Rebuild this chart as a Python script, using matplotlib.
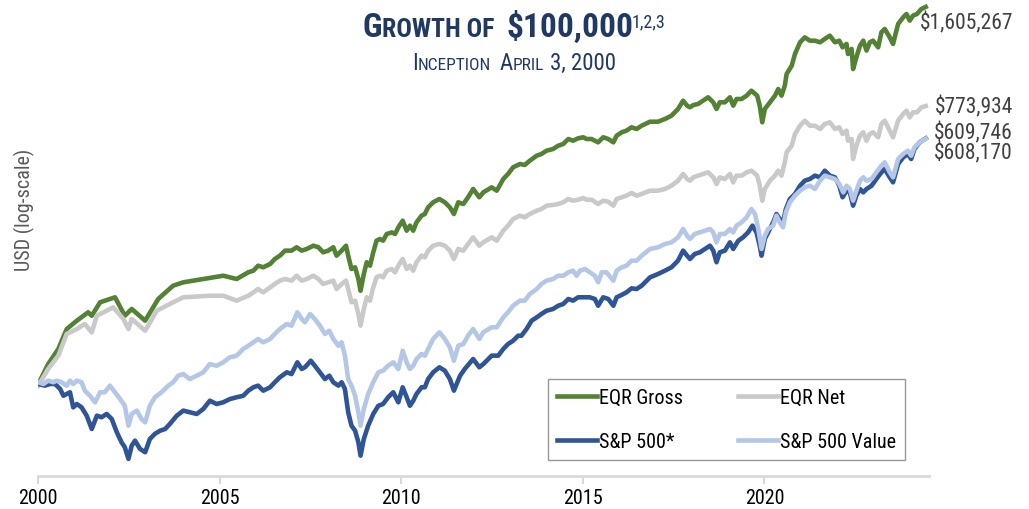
import numpy as np
import matplotlib
matplotlib.use('Agg')
import matplotlib.pyplot as plt
from matplotlib.ticker import NullLocator

plt.rcParams['font.family'] = ['Roboto Condensed', 'DejaVu Sans']
plt.rcParams['font.stretch'] = 'condensed'

# ---- data: growth of $100,000 (values in $ thousands), dates as decimal years ----
gross_dates_early = [2000.26, 2000.53, 2000.81, 2001.04, 2001.32, 2001.63, 2001.73, 2001.96, 2002.37, 2002.64,
                     2002.83, 2003.20, 2003.56, 2003.97, 2004.25, 2004.80, 2005.35, 2005.72, 2006.04]
gross_early = [100.0, 115.8, 129.4, 149.9, 159.4, 169.5, 165.3, 182.5, 189.3, 165.3,
               173.7, 159.4, 187.0, 206.2, 211.4, 216.6, 221.9, 216.6, 227.6]
net_dates_early = [2000.26, 2000.53, 2000.81, 2001.04, 2001.32, 2001.54, 2001.73, 2001.87, 2002.32, 2002.60,
                   2002.74, 2002.83, 2003.20, 2003.52, 2003.97, 2004.25, 2004.98, 2005.35, 2005.72, 2006.04]
net_early = [98.8, 111.7, 123.2, 144.5, 149.9, 155.5, 146.3, 165.3, 175.8, 161.4,
             149.9, 161.4, 148.0, 171.5, 182.5, 189.3, 191.5, 191.5, 184.7, 191.5]

# shared monthly-ish dates for both EQR series from 2006 on
eqr_dates_late = [
    2006.18, 2006.31, 2006.45, 2006.64, 2006.77, 2006.91, 2007.05, 2007.23, 2007.37, 2007.51,
    2007.65, 2007.83, 2007.97, 2008.10, 2008.24, 2008.38, 2008.47, 2008.61, 2008.73, 2008.79,
    2008.88, 2008.98, 2009.07, 2009.13, 2009.22, 2009.30, 2009.39, 2009.48, 2009.57, 2009.66,
    2009.75, 2009.85, 2009.99, 2010.08, 2010.17, 2010.29, 2010.40, 2010.49, 2010.58, 2010.67,
    2010.81, 2010.90, 2010.99, 2011.13, 2011.30, 2011.45, 2011.59, 2011.70, 2011.82, 2011.96,
    2012.09, 2012.23, 2012.40, 2012.51, 2012.74, 2012.88, 2013.06, 2013.19, 2013.33, 2013.52,
    2013.65, 2013.79, 2013.98, 2014.11, 2014.25, 2014.43, 2014.57, 2014.71, 2014.85, 2014.98,
    2015.12, 2015.26, 2015.35, 2015.49, 2015.67, 2015.81, 2015.95, 2016.09, 2016.18, 2016.32,
    2016.45, 2016.59, 2016.73, 2016.87, 2017.10, 2017.32, 2017.51, 2017.69, 2017.87, 2018.01,
    2018.12, 2018.20, 2018.29, 2018.42, 2018.56, 2018.70, 2018.84, 2018.93, 2019.02, 2019.16,
    2019.30, 2019.39, 2019.48, 2019.62, 2019.76, 2019.89, 2020.05, 2020.12, 2020.19, 2020.26,
    2020.40, 2020.54, 2020.63, 2020.72, 2020.81, 2020.86, 2021.00, 2021.09, 2021.23, 2021.36,
    2021.50, 2021.64, 2021.78, 2021.91, 2022.05, 2022.19, 2022.31, 2022.40, 2022.51, 2022.55,
    2022.65, 2022.69, 2022.78, 2022.88, 2022.97, 2023.06, 2023.15, 2023.24, 2023.38, 2023.47,
    2023.56, 2023.70, 2023.79, 2023.93, 2024.07, 2024.16, 2024.25, 2024.34, 2024.45, 2024.57,
    2024.69]
gross_late = [
    230.3, 238.9, 236.1, 241.9, 251.0, 257.2, 266.9, 266.9, 273.6, 266.9,
    270.2, 276.8, 273.6, 263.6, 266.9, 273.6, 257.2, 266.9, 276.8, 257.2,
    233.2, 236.1, 216.6, 198.7, 224.7, 245.0, 238.9, 263.6, 287.2, 290.8,
    287.2, 301.7, 305.3, 301.7, 316.9, 332.8, 309.1, 320.8, 309.1, 328.7,
    345.3, 349.5, 367.1, 381.0, 390.3, 381.0, 367.1, 349.5, 381.0, 376.2,
    395.3, 420.1, 395.3, 409.9, 425.4, 415.0, 452.2, 469.2, 492.9, 505.1,
    501.4, 517.6, 536.9, 543.6, 557.0, 564.0, 577.8, 585.2, 607.1, 599.6,
    610.2, 614.8, 607.1, 607.1, 592.3, 614.8, 607.1, 592.3, 622.1, 637.8,
    645.5, 661.6, 653.5, 669.6, 689.6, 689.6, 703.4, 720.6, 757.1, 804.9,
    775.9, 766.6, 779.3, 785.5, 804.9, 825.2, 795.3, 757.1, 795.3, 795.3,
    825.2, 775.9, 815.0, 815.0, 835.2, 866.4, 835.2, 775.9, 686.6, 757.1,
    795.3, 835.2, 877.2, 835.2, 898.8, 979.6, 1041, 1135, 1237, 1283,
    1252, 1252, 1237, 1268, 1299, 1237, 1252, 1192, 1222, 1135,
    1178, 1016, 1107, 1207, 1252, 1164, 1237, 1252, 1192, 1332,
    1365, 1283, 1222, 1416, 1487, 1524, 1451, 1506, 1524, 1581,
    1605.267]
net_late = [
    196.3, 201.2, 196.3, 203.6, 208.8, 214.0, 216.6, 214.0, 221.9, 214.0,
    216.6, 221.9, 216.6, 208.8, 211.4, 214.0, 201.2, 208.8, 214.0, 201.2,
    182.5, 184.7, 167.4, 153.6, 173.7, 189.3, 184.7, 203.6, 219.3, 221.9,
    219.3, 230.3, 233.2, 227.6, 238.9, 251.0, 233.2, 238.9, 230.3, 245.0,
    257.2, 254.1, 266.9, 276.8, 280.3, 276.8, 266.9, 251.0, 270.2, 266.9,
    280.3, 294.4, 276.8, 283.7, 294.4, 287.2, 309.1, 320.8, 336.9, 345.3,
    341.2, 349.5, 358.2, 362.6, 371.6, 373.7, 376.2, 381.0, 390.3, 385.5,
    388.3, 393.2, 388.3, 388.3, 376.2, 385.5, 382.7, 371.6, 390.3, 395.3,
    400.0, 408.0, 400.0, 405.0, 415.0, 415.0, 420.1, 430.5, 446.7, 469.2,
    452.2, 446.7, 457.8, 463.6, 469.2, 475.0, 457.8, 435.9, 457.8, 452.2,
    469.2, 441.4, 463.6, 463.6, 475.0, 480.8, 463.6, 430.5, 385.5, 420.1,
    446.7, 463.6, 480.8, 463.6, 511.4, 550.5, 577.8, 629.8, 669.6, 694.7,
    669.6, 669.6, 653.5, 678.0, 686.6, 653.5, 661.6, 629.8, 645.5, 599.6,
    607.1, 524.0, 577.8, 622.1, 637.8, 599.6, 629.8, 637.8, 614.8, 678.0,
    694.7, 645.5, 614.8, 694.7, 729.8, 747.8, 711.9, 738.9, 738.9, 766.6,
    773.934]

sp500_dates = [
    2000.26, 2000.44, 2000.58, 2000.72, 2000.86, 2000.95, 2001.04, 2001.13, 2001.22, 2001.32,
    2001.45, 2001.59, 2001.73, 2001.87, 2002.00, 2002.14, 2002.28, 2002.42, 2002.55, 2002.64,
    2002.74, 2002.83, 2002.92, 2003.06, 2003.20, 2003.33, 2003.47, 2003.61, 2003.75, 2003.88,
    2004.07, 2004.25, 2004.43, 2004.62, 2004.80, 2004.98, 2005.17, 2005.35, 2005.53, 2005.72,
    2005.90, 2006.04, 2006.18, 2006.31, 2006.45, 2006.64, 2006.77, 2006.91, 2007.10, 2007.23,
    2007.39, 2007.51, 2007.60, 2007.76, 2007.87, 2008.01, 2008.15, 2008.27, 2008.38, 2008.52,
    2008.61, 2008.70, 2008.79, 2008.88, 2008.98, 2009.07, 2009.13, 2009.22, 2009.34, 2009.48,
    2009.62, 2009.75, 2009.89, 2010.03, 2010.17, 2010.29, 2010.40, 2010.49, 2010.58, 2010.67,
    2010.81, 2010.90, 2010.99, 2011.13, 2011.30, 2011.45, 2011.59, 2011.70, 2011.87, 2012.00,
    2012.23, 2012.40, 2012.51, 2012.74, 2012.92, 2013.06, 2013.19, 2013.33, 2013.47, 2013.56,
    2013.70, 2013.84, 2013.98, 2014.11, 2014.25, 2014.43, 2014.57, 2014.71, 2014.85, 2014.98,
    2015.12, 2015.26, 2015.44, 2015.58, 2015.67, 2015.81, 2015.95, 2016.09, 2016.18, 2016.32,
    2016.45, 2016.59, 2016.73, 2016.87, 2017.10, 2017.32, 2017.51, 2017.69, 2017.87, 2018.01,
    2018.12, 2018.20, 2018.33, 2018.47, 2018.61, 2018.75, 2018.84, 2018.93, 2019.02, 2019.16,
    2019.30, 2019.39, 2019.53, 2019.66, 2019.80, 2019.92, 2020.03, 2020.12, 2020.17, 2020.26,
    2020.35, 2020.49, 2020.58, 2020.67, 2020.76, 2020.84, 2020.95, 2021.09, 2021.23, 2021.36,
    2021.50, 2021.64, 2021.78, 2021.91, 2022.05, 2022.19, 2022.31, 2022.40, 2022.51, 2022.60,
    2022.69, 2022.78, 2022.88, 2022.97, 2023.06, 2023.20, 2023.33, 2023.47, 2023.56, 2023.70,
    2023.79, 2023.93, 2024.07, 2024.20, 2024.29, 2024.38, 2024.52, 2024.69]
sp500 = [
    100.0, 98.8, 100.0, 100.0, 96.4, 91.7, 92.9, 94.1, 84.2, 86.3,
    84.2, 79.2, 71.8, 79.2, 78.3, 80.2, 77.3, 70.1, 65.1, 62.8,
    57.6, 63.5, 65.9, 62.0, 60.5, 66.7, 69.3, 70.9, 71.8, 74.5,
    79.2, 82.2, 81.2, 80.2, 83.2, 88.4, 86.3, 87.4, 89.5, 90.7,
    91.7, 95.2, 97.6, 98.8, 95.2, 97.6, 101.3, 105.1, 109.0, 107.6,
    117.3, 111.7, 113.1, 118.7, 114.4, 109.0, 103.7, 106.3, 101.3, 98.8,
    101.3, 96.4, 81.2, 73.6, 70.9, 65.1, 59.0, 66.7, 73.6, 80.2,
    85.2, 86.3, 90.7, 94.1, 87.4, 97.6, 90.7, 85.2, 88.4, 92.9,
    97.6, 97.6, 103.7, 109.0, 113.1, 110.3, 103.7, 95.2, 106.3, 111.7,
    120.2, 113.1, 115.8, 123.2, 123.2, 129.4, 134.2, 137.5, 142.7, 142.7,
    149.9, 159.4, 163.3, 167.4, 171.5, 173.7, 177.9, 180.2, 187.0, 184.7,
    189.3, 189.3, 189.3, 187.0, 177.9, 189.3, 187.0, 177.9, 189.3, 192.7,
    196.3, 202.2, 201.2, 206.2, 219.3, 224.7, 230.3, 236.1, 247.9, 266.9,
    257.2, 251.0, 260.4, 263.6, 270.2, 276.8, 266.9, 245.0, 263.6, 266.9,
    283.7, 270.2, 287.2, 294.4, 305.3, 320.8, 305.3, 276.8, 257.2, 290.8,
    305.3, 328.7, 349.5, 336.9, 328.7, 362.6, 390.3, 405.0, 430.5, 446.7,
    452.2, 463.6, 457.8, 480.8, 463.6, 457.8, 430.5, 395.3, 415.0, 409.9,
    371.6, 400.0, 420.1, 409.9, 420.1, 430.5, 452.2, 475.0, 486.7, 457.8,
    441.4, 505.1, 530.5, 543.6, 524.0, 564.0, 592.3, 609.746]

value_dates = [
    2000.26, 2000.40, 2000.53, 2000.67, 2000.76, 2000.90, 2001.04, 2001.13, 2001.22, 2001.32,
    2001.45, 2001.54, 2001.68, 2001.82, 2001.96, 2002.09, 2002.23, 2002.37, 2002.51, 2002.64,
    2002.74, 2002.83, 2002.97, 2003.10, 2003.20, 2003.33, 2003.47, 2003.65, 2003.84, 2003.97,
    2004.11, 2004.25, 2004.43, 2004.62, 2004.80, 2004.98, 2005.17, 2005.35, 2005.53, 2005.72,
    2005.90, 2006.04, 2006.18, 2006.31, 2006.45, 2006.64, 2006.77, 2006.91, 2007.10, 2007.23,
    2007.39, 2007.51, 2007.60, 2007.74, 2007.87, 2008.01, 2008.15, 2008.27, 2008.38, 2008.52,
    2008.61, 2008.70, 2008.79, 2008.88, 2008.98, 2009.07, 2009.13, 2009.22, 2009.34, 2009.48,
    2009.62, 2009.75, 2009.89, 2010.03, 2010.17, 2010.29, 2010.40, 2010.49, 2010.58, 2010.67,
    2010.81, 2010.90, 2010.99, 2011.13, 2011.30, 2011.45, 2011.59, 2011.70, 2011.82, 2011.96,
    2012.09, 2012.23, 2012.40, 2012.51, 2012.74, 2012.88, 2013.06, 2013.19, 2013.33, 2013.52,
    2013.65, 2013.79, 2013.98, 2014.11, 2014.25, 2014.43, 2014.57, 2014.71, 2014.85, 2014.98,
    2015.08, 2015.17, 2015.31, 2015.44, 2015.58, 2015.67, 2015.77, 2015.90, 2016.09, 2016.18,
    2016.32, 2016.45, 2016.59, 2016.73, 2016.87, 2017.10, 2017.32, 2017.51, 2017.69, 2017.87,
    2018.01, 2018.12, 2018.20, 2018.33, 2018.47, 2018.61, 2018.75, 2018.84, 2018.93, 2019.02,
    2019.16, 2019.30, 2019.39, 2019.48, 2019.62, 2019.76, 2019.89, 2019.99, 2020.08, 2020.17,
    2020.26, 2020.35, 2020.49, 2020.58, 2020.67, 2020.76, 2020.84, 2020.95, 2021.09, 2021.23,
    2021.36, 2021.50, 2021.64, 2021.78, 2021.91, 2022.05, 2022.19, 2022.31, 2022.42, 2022.51,
    2022.60, 2022.69, 2022.78, 2022.88, 2022.97, 2023.06, 2023.20, 2023.33, 2023.47, 2023.56,
    2023.70, 2023.79, 2023.93, 2024.07, 2024.20, 2024.29, 2024.38, 2024.52, 2024.69]
sp500_value = [
    101.3, 100.0, 102.5, 101.3, 102.5, 101.3, 98.8, 102.5, 100.0, 102.5,
    101.3, 95.2, 91.7, 87.4, 94.1, 94.1, 98.8, 94.1, 89.5, 85.2,
    73.6, 80.2, 82.2, 77.3, 75.4, 85.2, 90.7, 94.1, 98.8, 101.3,
    106.3, 107.6, 103.7, 106.3, 109.0, 115.8, 114.4, 117.3, 121.7, 123.2,
    129.4, 132.5, 135.9, 139.3, 135.9, 139.3, 144.5, 149.9, 155.5, 153.6,
    169.5, 161.4, 157.5, 167.4, 161.4, 153.6, 144.5, 148.0, 139.3, 132.5,
    135.9, 123.2, 103.7, 98.8, 91.7, 81.2, 73.6, 83.2, 92.9, 101.3,
    109.0, 110.3, 114.4, 117.3, 111.7, 127.7, 117.3, 111.7, 114.4, 120.2,
    124.7, 123.2, 129.4, 139.3, 146.3, 139.3, 131.0, 118.7, 132.5, 134.2,
    142.7, 149.9, 139.3, 146.3, 151.8, 151.8, 163.3, 169.5, 177.9, 184.7,
    184.7, 193.9, 201.2, 208.8, 214.0, 216.6, 221.9, 221.9, 227.6, 230.3,
    221.9, 230.3, 233.2, 227.6, 221.9, 211.4, 227.6, 227.6, 214.0, 230.3,
    236.1, 238.9, 247.9, 247.9, 257.2, 270.2, 273.6, 280.3, 283.7, 294.4,
    313.0, 298.0, 290.8, 301.7, 305.3, 309.1, 313.0, 305.3, 283.7, 301.7,
    301.7, 313.0, 305.3, 320.8, 328.7, 341.2, 362.6, 349.5, 313.0, 270.2,
    298.0, 313.0, 320.8, 345.3, 328.7, 316.9, 353.8, 381.0, 400.0, 415.0,
    425.4, 430.5, 420.1, 446.7, 463.6, 457.8, 452.2, 435.9, 409.9, 430.5,
    420.1, 385.5, 415.0, 446.7, 457.8, 446.7, 452.2, 475.0, 498.9, 511.4,
    475.0, 457.8, 524.0, 543.6, 557.0, 536.9, 571.0, 592.3, 608.170]

series_names = ['EQR Gross', 'EQR Net', 'S&P 500*', 'S&P 500 Value']
series_colors = ['#548235', '#c9c9c9', '#2f5597', '#b4c7e7']
end_labels = ['$1,605,267', '$773,934', '$609,746', '$608,170']
tick_years = [2000, 2005, 2010, 2015, 2020]

NAVY = '#203864'
W, H = 1029, 510

fig = plt.figure(figsize=(W / 100, H / 100), dpi=100)
ax = fig.add_axes([38 / W, 1 - 477 / H, (929 - 38) / W, (477 - 5) / H])

all_series = [
    (gross_dates_early + eqr_dates_late, gross_early + gross_late),
    (net_dates_early + eqr_dates_late, net_early + net_late),
    (sp500_dates, sp500),
    (value_dates, sp500_value),
]
lines = []
for (d, v), name, c in zip(all_series, series_names, series_colors):
    ln, = ax.plot(d, np.array(v) * 1000, color=c, lw=3.3, solid_joinstyle='round', label=name)
    lines.append(ln)

ax.set_yscale('log')
ax.set_ylim(50800, 1640000)
ax.set_xlim(2000.25, 2024.78)
ax.set_yticks([])
ax.yaxis.set_minor_locator(NullLocator())
# axis ticks are anchored on the inception month
ax.set_xticks([y + 0.25 for y in tick_years], [str(y) for y in tick_years])
for s in ['left', 'top', 'right']:
    ax.spines[s].set_visible(False)
ax.spines['bottom'].set_color('#d9d9d9')
ax.spines['bottom'].set_linewidth(2)
ax.tick_params(axis='x', colors='#d9d9d9', labelcolor='black', length=6, width=1.5,
               labelsize=14.5, pad=3)

fig.text(24 / W, 1 - 210 / H, 'USD (log-scale)', rotation=90, ha='center', va='center',
         fontsize=14.5, color='#595959')

# end-of-period values
for lab, ypx in zip(end_labels, [23, 107, 133, 153]):
    fig.text(1013 / W, 1 - ypx / H, lab, ha='right', va='center', fontsize=15.5, color='#404040')

# legend: row-wise order
order = [0, 2, 1, 3]
leg = fig.legend([lines[i] for i in order], [series_names[i] for i in order], ncol=2,
                 loc='upper left', bbox_to_anchor=(548 / W, 1 - 380 / H), fontsize=14.5,
                 frameon=True, fancybox=False, edgecolor='#7f7f7f', handlelength=2.0,
                 handletextpad=0.1, columnspacing=2.7, labelspacing=1.25, borderpad=0.45,
                 borderaxespad=0)
leg.get_frame().set_linewidth(1.0)


# title with fake small caps
def rich_line(runs, xc, base):
    r = fig.canvas.get_renderer()
    items = []
    total = 0
    for s, size, weight, dy, gap in runs:
        t = fig.text(0, 0, s, fontsize=size, fontweight=weight, color=NAVY, va='baseline', ha='left')
        w = t.get_window_extent(r).width
        items.append((t, w, dy, gap))
        total += w + gap
    x = xc - total / 2
    for t, w, dy, gap in items:
        t.set_position((x / W, (H - base + dy) / H))
        x += w + gap


rich_line([('G', 24, 'bold', 0, 0), ('ROWTH OF', 18.5, 'bold', 0, 12),
           ('$100,000', 24, 'bold', 0, -2), ('1,2,3', 13, 'normal', 10, 0)], 514, 37)
rich_line([('I', 16.5, 'normal', 0, 0), ('NCEPTION', 12.5, 'normal', 0, 8),
           ('A', 16.5, 'normal', 0, 0), ('PRIL', 12.5, 'normal', 0, 6),
           ('3, 2000', 16.5, 'normal', 0, 0)], 514, 70)

fig.savefig('out.png', dpi=100)
